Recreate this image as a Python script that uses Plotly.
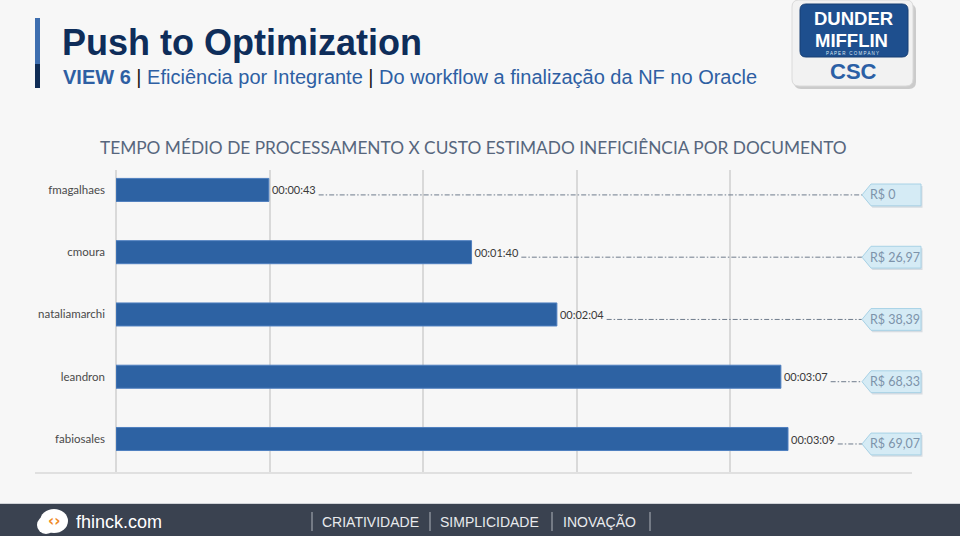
import plotly.graph_objects as go

# ---------------- data ----------------
members = ["fmagalhaes", "cmoura", "nataliamarchi", "leandron", "fabiosales"]
seconds = [43, 100, 124, 187, 189]
time_labels = ["00:00:43", "00:01:40", "00:02:04", "00:03:07", "00:03:09"]
cost_labels = ["R$ 0", "R$ 26,97", "R$ 38,39", "R$ 68,33", "R$ 69,07"]
footer_words = ["CRIATIVIDADE", "SIMPLICIDADE", "INOVAÇÃO"]

W, H = 960, 536
BG = "#F7F7F7"


def px(x):
    return x / W


def py(y):
    return 1 - y / H


def rrect(x0, y0, x1, y1, r):
    """Rounded rectangle path in paper coords from pixel coords."""
    X = lambda v: px(v)
    Y = lambda v: py(v)
    return (f"M {X(x0 + r)},{Y(y0)} L {X(x1 - r)},{Y(y0)} "
            f"Q {X(x1)},{Y(y0)} {X(x1)},{Y(y0 + r)} L {X(x1)},{Y(y1 - r)} "
            f"Q {X(x1)},{Y(y1)} {X(x1 - r)},{Y(y1)} L {X(x0 + r)},{Y(y1)} "
            f"Q {X(x0)},{Y(y1)} {X(x0)},{Y(y1 - r)} L {X(x0)},{Y(y0 + r)} "
            f"Q {X(x0)},{Y(y0)} {X(x0 + r)},{Y(y0)} Z")


def ann(x, y, text, size, color, family="Liberation Sans", xanchor="center",
        yanchor="middle", xref="paper", yref="paper"):
    return dict(xref=xref, yref=yref, x=x, y=y, text=text, showarrow=False,
                xanchor=xanchor, yanchor=yanchor,
                font=dict(family=family, size=size, color=color))


idx = list(range(len(members)))
XMAX = 216.0          # axis max (0.0025 day)
DT = 43.2             # major unit (0.0005 day)

fig = go.Figure()
fig.add_trace(go.Bar(
    x=seconds, y=idx, orientation="h", width=0.37,
    marker=dict(color="#2D62A3", line=dict(color="#4F7FBF", width=1)),
    text=time_labels, textposition="outside", cliponaxis=False,
    textfont=dict(family="Lato", size=11, color="#3A3A3A"),
    hoverinfo="skip",
))

shapes = []
annotations = []

# leader lines + callouts (callout x in paper space, y on category axis)
CALL_TIP_DATA = 209.8
TIP, BODY, END = px(862), px(871), px(921)
for i, (s, c) in enumerate(zip(seconds, cost_labels)):
    yc = i + 0.08
    shapes.append(dict(type="line", xref="x", yref="y", x0=s + 14, x1=CALL_TIP_DATA,
                       y0=yc, y1=yc, line=dict(color="#6F7C8C", width=1, dash="5px,2px,1.5px,2px"),
                       layer="above"))
    hh = 0.175
    # soft shadow
    spath = (f"M {TIP + px(1.5)},{yc + 0.03} L {BODY + px(1.5)},{yc - hh + 0.03} "
             f"L {END + px(1.5)},{yc - hh + 0.03} L {END + px(1.5)},{yc + hh + 0.03} "
             f"L {BODY + px(1.5)},{yc + hh + 0.03} Z")
    shapes.append(dict(type="path", xref="paper", yref="y", path=spath,
                       fillcolor="rgba(150,170,185,0.35)", line=dict(width=0), layer="above"))
    path = (f"M {TIP},{yc} L {BODY},{yc - hh} L {END},{yc - hh} "
            f"L {END},{yc + hh} L {BODY},{yc + hh} Z")
    shapes.append(dict(type="path", xref="paper", yref="y", path=path,
                       fillcolor="#D5EBF5", line=dict(color="#A8D2E6", width=1), layer="above"))
    annotations.append(ann(px(868), yc, c, 12.5, "#7D93AA", family="Lato",
                           xanchor="left", yref="y"))

# bottom baseline
shapes.append(dict(type="line", xref="paper", yref="paper", x0=px(35), x1=px(912),
                   y0=py(473), y1=py(473), line=dict(color="#D9D9D9", width=1.5)))

# header accent bar
shapes.append(dict(type="rect", xref="paper", yref="paper", x0=px(35), x1=px(40),
                   y0=py(18), y1=py(64), fillcolor="#3E6EAF", line=dict(width=0)))
shapes.append(dict(type="rect", xref="paper", yref="paper", x0=px(35), x1=px(40),
                   y0=py(64), y1=py(88), fillcolor="#0F2C55", line=dict(width=0)))

# logo box with shadow
shapes.append(dict(type="path", xref="paper", yref="paper", path=rrect(794, 4, 916, 89, 7),
                   fillcolor="#CBCBCB", line=dict(width=0)))
shapes.append(dict(type="path", xref="paper", yref="paper", path=rrect(792, 0, 913, 86, 7),
                   fillcolor="#F2F2F2", line=dict(color="#DADADA", width=1)))
shapes.append(dict(type="path", xref="paper", yref="paper", path=rrect(800, 4, 908, 57, 6),
                   fillcolor="#1E4F8E", line=dict(color="#163E73", width=1)))

# footer band
shapes.append(dict(type="rect", xref="paper", yref="paper", x0=0, x1=1,
                   y0=0, y1=py(504), fillcolor="#3A4250", line=dict(width=0)))
shapes.append(dict(type="line", xref="paper", yref="paper", x0=0, x1=1,
                   y0=py(503.5), y1=py(503.5), line=dict(color="#D0D3D8", width=1)))
for sx in [312, 430, 552, 650]:
    shapes.append(dict(type="line", xref="paper", yref="paper", x0=px(sx), x1=px(sx),
                       y0=py(512), y1=py(531), line=dict(color="#AEB3BB", width=1)))
# footer icon (white blob)
shapes.append(dict(type="circle", xref="paper", yref="paper", x0=px(40), x1=px(68),
                   y0=py(533), y1=py(509), fillcolor="#FFFFFF", line=dict(width=0)))
shapes.append(dict(type="circle", xref="paper", yref="paper", x0=px(37), x1=px(55),
                   y0=py(534), y1=py(516), fillcolor="#FFFFFF", line=dict(width=0)))

# header texts
annotations.append(ann(px(60), py(42), "<b>Push to Optimization</b>", 36, "#0E2D5A",
                       xanchor="left"))
annotations.append(ann(px(61), py(77),
                       ("<b>VIEW 6</b> <span style='color:#1A1A1A'>|</span> Eficiência por Integrante "
                        "<span style='color:#1A1A1A'>|</span> Do workflow a finalização da NF no Oracle"),
                       20, "#2E5FA3", xanchor="left"))

# logo texts
annotations.append(ann(px(853), py(18.5), "<b>DUNDER</b>", 18.5, "#FFFFFF"))
annotations.append(ann(px(851), py(40), "<b>MIFFLIN</b>", 18.5, "#FFFFFF"))
annotations.append(ann(px(852), py(53.5), "P A P E R   C O M P A N Y", 4.5, "#DDE6F2"))
annotations.append(ann(px(853), py(72), "<b>CSC</b>", 22, "#2B5FA5"))

# chart title
annotations.append(ann(px(473), py(147),
                       "TEMPO MÉDIO DE PROCESSAMENTO X CUSTO ESTIMADO INEFICIÊNCIA POR DOCUMENTO",
                       17.3, "#56667D", family="Lato"))

# footer texts
annotations.append(ann(px(54), py(521), "<b>‹›</b>", 15, "#F08A24", family="DejaVu Sans"))
annotations.append(ann(px(74), py(522), "fhinck.com", 18, "#FFFFFF", xanchor="left"))
for w, cx in zip(footer_words, [370, 489, 599]):
    annotations.append(ann(px(cx), py(522), w, 14, "#E8EAED"))

fig.update_layout(
    width=W, height=H, margin=dict(l=0, r=0, t=0, b=0),
    paper_bgcolor=BG, plot_bgcolor=BG, showlegend=False,
    xaxis=dict(domain=[px(116), px(884)], range=[0, XMAX], dtick=DT, tick0=0,
               showgrid=True, gridcolor="#D9D9D9", gridwidth=1.5,
               zeroline=True, zerolinecolor="#D9D9D9", zerolinewidth=1.5,
               showticklabels=False, showline=False),
    yaxis=dict(domain=[py(472), py(170)], range=[4.53, -0.32],
               tickvals=idx, ticktext=members, showgrid=False, zeroline=False,
               ticks="", ticklabelstandoff=10,
               tickfont=dict(family="Lato", size=11.5, color="#4A4A4A")),
    shapes=shapes, annotations=annotations,
)

fig.write_html("out.html", config={"displayModeBar": False},
               post_script="document.body.style.margin='0';document.body.style.overflow='hidden';")
